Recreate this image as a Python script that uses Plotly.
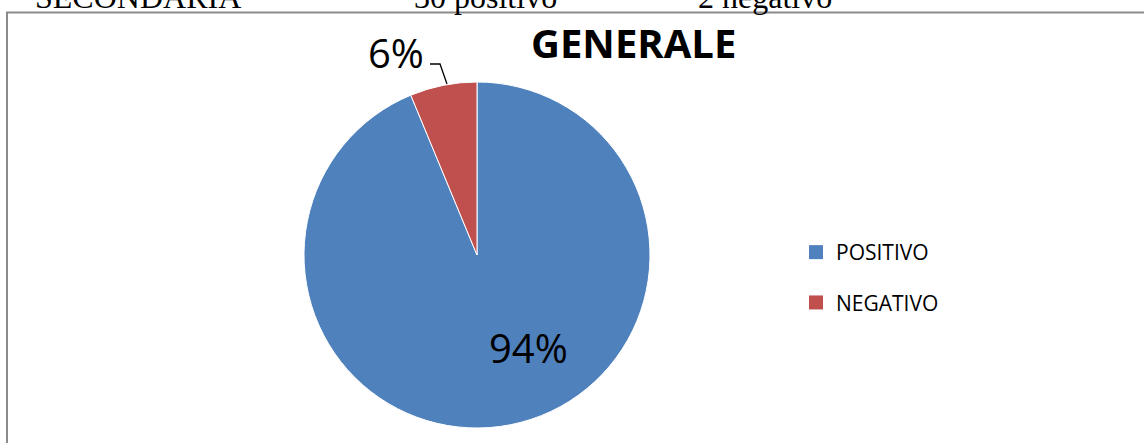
import plotly.graph_objects as go

# ---- data ----
labels = ["POSITIVO", "NEGATIVO"]
values = [30, 2]
colors = ["#4F81BD", "#C0504D"]
title_text = "GENERALE"
header_texts = ["SECONDARIA", "30 positivo", "2 negativo"]

W, H = 1144, 443

def px(x):
    return x / W

def py(y):
    return 1 - y / H

total = sum(values)
pcts = [f"{round(v / total * 100)}%" for v in values]

fig = go.Figure()

# pie: centre (477,255), radius 173
fig.add_trace(go.Pie(
    labels=labels,
    values=values,
    marker=dict(colors=colors, line=dict(color="#ffffff", width=1)),
    sort=False,
    direction="clockwise",
    rotation=0,
    textinfo="none",
    hoverinfo="label+percent",
    showlegend=False,
    domain=dict(x=[px(304), px(650)], y=[py(428), py(82)]),
))

# legend entries (one per category)
for lab, col in zip(labels, colors):
    fig.add_trace(go.Scatter(
        x=[None], y=[None], mode="markers", name=lab,
        marker=dict(symbol="square", size=14, color=col),
        legendgroup=lab, showlegend=True,
    ))

annotations = []
# percent labels
annotations.append(dict(
    text=pcts[0], x=px(528), y=py(347), xref="paper", yref="paper",
    showarrow=False, font=dict(family="Open Sans", size=40, color="#000000"),
    xanchor="center", yanchor="middle",
))
annotations.append(dict(
    text=pcts[1], x=px(396), y=py(52), xref="paper", yref="paper",
    showarrow=False, font=dict(family="Open Sans", size=40, color="#000000"),
    xanchor="center", yanchor="middle",
))
# title
annotations.append(dict(
    text=f"<b>{title_text}</b>", x=px(633), y=py(42), xref="paper", yref="paper",
    showarrow=False, font=dict(family="Open Sans", size=40, color="#000000"),
    xanchor="center", yanchor="middle",
))
# cut-off header line above the chart
for t, xx in zip(header_texts, [33, 412, 696]):
    annotations.append(dict(
        text=t, x=px(xx), y=py(17), xref="paper", yref="paper",
        showarrow=False, font=dict(family="Liberation Serif", size=32, color="#000000"),
        xanchor="left", yanchor="bottom",
    ))

shapes = [
    # chart frame
    dict(type="rect", xref="paper", yref="paper",
         x0=px(7), x1=px(1160), y0=py(460), y1=py(12.5),
         line=dict(color="#8a8a8a", width=2), fillcolor="rgba(0,0,0,0)"),
    # leader line for small slice
    dict(type="path", xref="paper", yref="paper",
         path=f"M {px(430)} {py(64)} L {px(440)} {py(64)} L {px(447)} {py(84)}",
         line=dict(color="#000000", width=1.3)),
]

fig.update_layout(
    width=W, height=H,
    margin=dict(l=0, r=0, t=0, b=0),
    paper_bgcolor="#ffffff", plot_bgcolor="#ffffff",
    xaxis=dict(visible=False), yaxis=dict(visible=False),
    annotations=annotations,
    shapes=shapes,
    legend=dict(
        x=px(796), y=py(232), xanchor="left", yanchor="top",
        font=dict(family="Open Sans", size=21, color="#000000"),
        tracegroupgap=20, bgcolor="rgba(0,0,0,0)",
    ),
    showlegend=True,
)

fig.write_html(
    "out.html",
    config={"displayModeBar": False},
    post_script="document.body.style.margin='0';document.body.style.overflow='hidden';",
)
